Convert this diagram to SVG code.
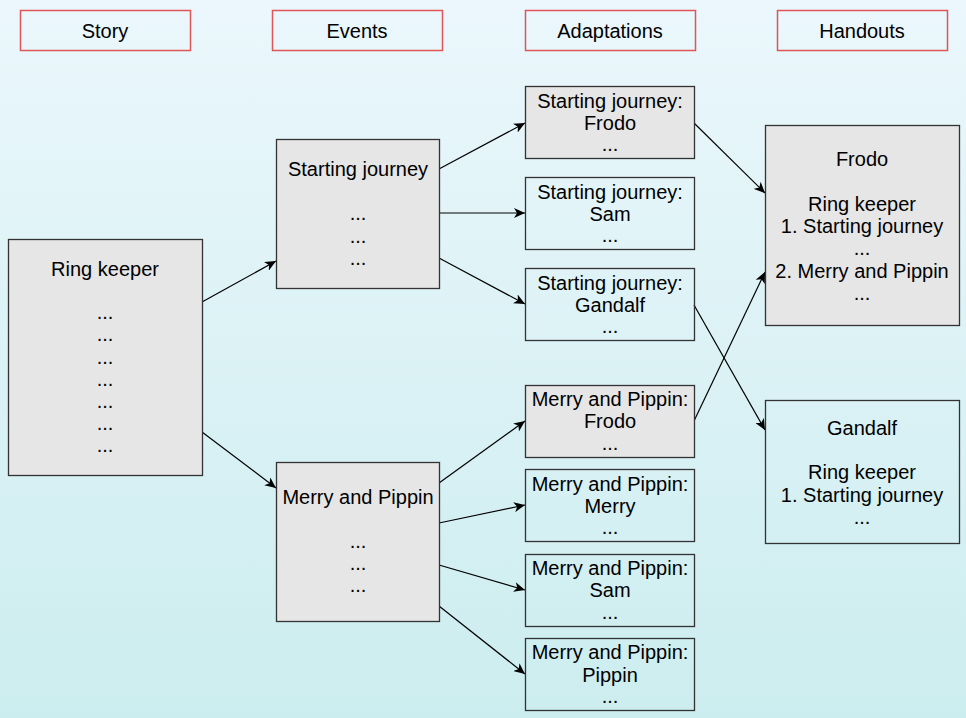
<svg xmlns="http://www.w3.org/2000/svg" width="966" height="718" viewBox="0 0 966 718">
<defs>
<linearGradient id="bg" x1="0" y1="0" x2="0" y2="1">
<stop offset="0" stop-color="#ebf7fc"/>
<stop offset="1" stop-color="#ccedef"/>
</linearGradient>
<marker id="arr" markerUnits="userSpaceOnUse" markerWidth="12" markerHeight="10" viewBox="0 0 12 10" refX="11" refY="5" orient="auto">
<path d="M0,0 L11,5 L0,10 L3,5 Z" fill="#000"/>
</marker>
</defs>
<style>
text{font-family:"Liberation Sans",Arial,sans-serif;font-size:20px;fill:#000;text-anchor:middle}
.hdr{fill:none;stroke:#e05555;stroke-width:1.5}
.g{fill:#e6e6e6;stroke:#333;stroke-width:1.3}
.l{fill:none;stroke:#333;stroke-width:1.3}
.c{fill:none;stroke:#000;stroke-width:1.2;marker-end:url(#arr)}
</style>
<rect width="966" height="718" fill="url(#bg)"/>
<g id="headers">
<g id="h-story"><rect class="hdr" x="20.5" y="10.5" width="170" height="40"/><text x="105" y="38">Story</text></g>
<g id="h-events"><rect class="hdr" x="272.5" y="10.5" width="170" height="40"/><text x="357" y="38">Events</text></g>
<g id="h-adapt"><rect class="hdr" x="525.5" y="10.5" width="170" height="40"/><text x="610" y="38">Adaptations</text></g>
<g id="h-handouts"><rect class="hdr" x="777.5" y="10.5" width="170" height="40"/><text x="862" y="38">Handouts</text></g>
</g>
<g id="connectors">
<line class="c" x1="202" y1="302" x2="276" y2="261"/>
<line class="c" x1="202" y1="432" x2="276" y2="488"/>
<line class="c" x1="439" y1="169" x2="525" y2="123"/>
<line class="c" x1="439" y1="213" x2="525" y2="213"/>
<line class="c" x1="439" y1="258" x2="525" y2="304"/>
<line class="c" x1="439" y1="483" x2="525" y2="421"/>
<line class="c" x1="439" y1="523" x2="525" y2="505"/>
<line class="c" x1="439" y1="565" x2="525" y2="590"/>
<line class="c" x1="439" y1="606" x2="525" y2="674"/>
<line class="c" x1="694" y1="123" x2="765" y2="193"/>
<line class="c" x1="694" y1="305" x2="765" y2="430"/>
<line class="c" x1="694" y1="421" x2="765" y2="272"/>
</g>
<g id="ring-keeper"><rect class="g" x="8.5" y="239.5" width="194" height="236"/>
<text x="105" y="276">Ring keeper</text>
<text x="105" y="319">...</text><text x="105" y="341">...</text><text x="105" y="364">...</text><text x="105" y="386">...</text><text x="105" y="408">...</text><text x="105" y="430">...</text><text x="105" y="452">...</text></g>
<g id="ev-starting"><rect class="g" x="276.5" y="139.5" width="163" height="149"/>
<text x="358" y="176">Starting journey</text>
<text x="358" y="220">...</text><text x="358" y="243">...</text><text x="358" y="265">...</text></g>
<g id="ev-merry"><rect class="g" x="276.5" y="462.5" width="163" height="159"/>
<text x="358" y="504">Merry and Pippin</text>
<text x="358" y="548">...</text><text x="358" y="570">...</text><text x="358" y="592">...</text></g>
<g id="ad-sj-frodo"><rect class="g" x="525.5" y="86.5" width="169" height="72"/>
<text x="610" y="108">Starting journey:</text><text x="610" y="130">Frodo</text><text x="610" y="151">...</text></g>
<g id="ad-sj-sam"><rect class="l" x="525.5" y="177.5" width="169" height="72"/>
<text x="610" y="199">Starting journey:</text><text x="610" y="221">Sam</text><text x="610" y="242">...</text></g>
<g id="ad-sj-gandalf"><rect class="l" x="525.5" y="268.5" width="169" height="72"/>
<text x="610" y="290">Starting journey:</text><text x="610" y="312">Gandalf</text><text x="610" y="333">...</text></g>
<g id="ad-mp-frodo"><rect class="g" x="525.5" y="385.5" width="169" height="72"/>
<text x="610" y="406">Merry and Pippin:</text><text x="610" y="428">Frodo</text><text x="610" y="450">...</text></g>
<g id="ad-mp-merry"><rect class="l" x="525.5" y="469.5" width="169" height="72"/>
<text x="610" y="491">Merry and Pippin:</text><text x="610" y="513">Merry</text><text x="610" y="534">...</text></g>
<g id="ad-mp-sam"><rect class="l" x="525.5" y="554.5" width="169" height="72"/>
<text x="610" y="575">Merry and Pippin:</text><text x="610" y="597">Sam</text><text x="610" y="619">...</text></g>
<g id="ad-mp-pippin"><rect class="l" x="525.5" y="638.5" width="169" height="72"/>
<text x="610" y="659">Merry and Pippin:</text><text x="610" y="682">Pippin</text><text x="610" y="703">...</text></g>
<g id="ho-frodo"><rect class="g" x="765.5" y="125.5" width="194" height="200"/>
<text x="862" y="166">Frodo</text><text x="862" y="211">Ring keeper</text><text x="862" y="233">1. Starting journey</text><text x="862" y="255">...</text><text x="862" y="278">2. Merry and Pippin</text><text x="862" y="300">...</text></g>
<g id="ho-gandalf"><rect class="l" x="765.5" y="400.5" width="194" height="143"/>
<text x="862" y="435">Gandalf</text><text x="862" y="479">Ring keeper</text><text x="862" y="502">1. Starting journey</text><text x="862" y="524">...</text></g>
</svg>
